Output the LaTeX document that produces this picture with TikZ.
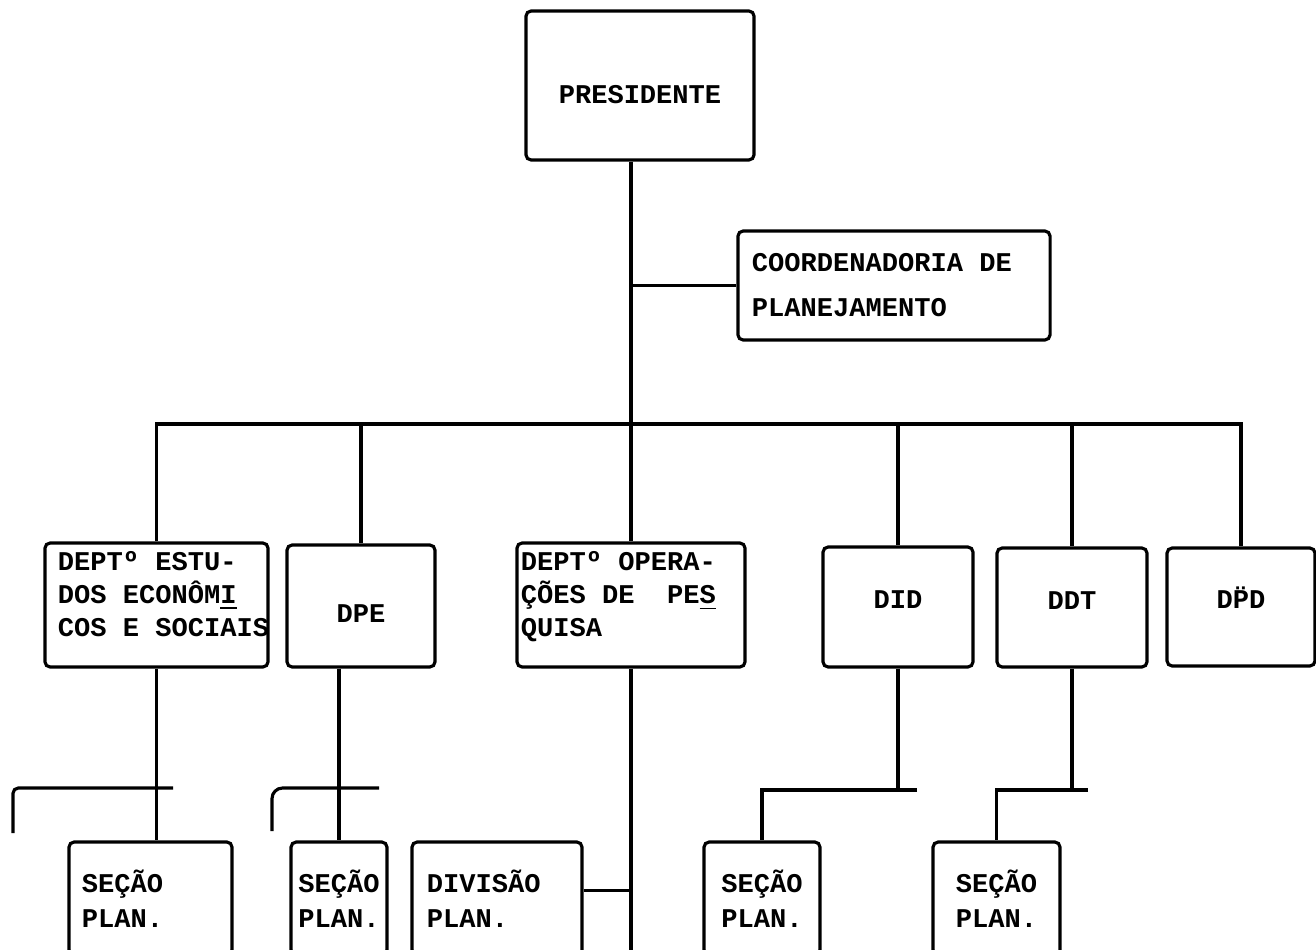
\documentclass[tikz,border=0pt]{standalone}
\usepackage{fontspec}
\setmonofont{Liberation Mono}
\usetikzlibrary{positioning}
\newcommand\tyfont[1]{\ttfamily\bfseries\fontsize{7.7}{#1}\selectfont}
\newcommand\tsp{\hspace*{0.6em}}

\begin{document}
\begin{tikzpicture}[
    x=0.01cm, y=-0.01cm,
    unit/.style = {rectangle, draw=black, line width=0.9pt, rounded corners=1.5pt, inner sep=0pt, font=\tyfont{9.36pt}},
    plan/.style = {unit, minimum height=1.13cm, font=\tyfont{9.93pt}},
    link/.style = {draw=black, line width=0.9pt}
]
\useasboundingbox [fill=white] (0,0) rectangle (1316,949);
\clip (0,0) rectangle (1316,949);

\node (pres) [unit, minimum width=2.28cm, minimum height=1.49cm, text height=10.5pt, text depth=0pt] at (640,85.5) {PRESIDENTE};
\node (coord) [unit, minimum width=3.12cm, minimum height=1.09cm, text width=2.84cm, inner xsep=0.14cm, align=left, font=\tyfont{12.8pt}] at (894,285.5) {\mbox{COORDENADORIA\tsp DE}\\PLANEJAMENTO};

% departamentos
\node (estudos) [unit, minimum width=2.23cm, minimum height=1.24cm, text width=1.97cm, inner xsep=0.13cm, align=left] at (156.5,605) {\mbox{DEPTº\tsp ESTU-}\\\mbox{DOS\tsp ECONÔM\underline{I}}\\\mbox{COS\tsp E\tsp SOCIAIS}\\[-2.9pt]\mbox{}};
\node (dpe) [unit, minimum width=1.48cm, minimum height=1.22cm, text height=9.6pt, text depth=0pt] at (361,606) {DPE};
\node (oper) [unit, minimum width=2.28cm, minimum height=1.24cm, text width=2.20cm, inner xsep=0.04cm, align=left] at (631,605) {\mbox{DEPTº\tsp OPERA-}\\\mbox{ÇÕES\tsp DE\tsp\tsp PE\underline{S}}\\QUISA\\[-2.9pt]\mbox{}};
\node (did) [unit, minimum width=1.50cm, minimum height=1.20cm, text height=5.1pt, text depth=4pt] at (898,607) {DID};
\node (ddt) [unit, minimum width=1.50cm, minimum height=1.19cm, text height=5.1pt, text depth=4pt] at (1072,607.5) {DDT};
\node (dpd) [unit, minimum width=1.48cm, minimum height=1.18cm, text height=5.1pt, text depth=4pt] at (1241,607) {D\"{P}D};

% secoes
\node (sec1) [plan, minimum width=1.63cm, text width=1.37cm, inner xsep=0.13cm, align=left] at (150.5,898.5) {SEÇÃO\\PLAN.};
\node (sec2) [plan, minimum width=0.96cm, align=center] at (339,898.5) {SEÇÃO\\PLAN.};
\node (div) [plan, minimum width=1.70cm, text width=1.40cm, inner xsep=0.15cm, align=left] at (497,898.5) {DIVISÃO\\PLAN.};
\node (sec4) [plan, minimum width=1.16cm, align=center] at (762,898.5) {SEÇÃO\\PLAN.};
\node (sec5) [plan, minimum width=1.27cm, align=center] at (996.5,898.5) {SEÇÃO\\PLAN.};

\coordinate (bus) at (0,424);
\coordinate (low) at (0,960);
\coordinate (bar1l) at (13,833);
\coordinate (bar1r) at (173,788);
\coordinate (bar2l) at (272,831);
\coordinate (bar2r) at (379,788);
\coordinate (bar3) at (917,790);
\coordinate (bar4) at (1088,790);
\coordinate (divport) at ([yshift=2.3pt]div.east);

\draw [link] (pres.south -| oper.north) -- (oper.north);
\draw [link] (coord.west) -- (coord.west -| oper.north);
\draw [link] (estudos.north) |- (bus -| dpd.north) -- (dpd.north);
\foreach \d in {dpe, did, ddt}
    \draw [link] (bus -| \d.north) -- (\d.north);

\draw [link] (estudos.south) -- (estudos.south |- sec1.north);
\draw [link, rounded corners=1.5pt] (bar1l) |- (bar1r);
\draw [link] (sec2.north |- dpe.south) -- (sec2.north);
\draw [link, rounded corners=3pt] (bar2l) |- (bar2r);
\draw [link] (oper.south) -- (oper.south |- low);
\draw [link] (divport) -- (divport -| oper.south);
\draw [link] (did.south) -- (did.south |- bar3);
\draw [link] (bar3) -| (sec4.north);
\draw [link] (ddt.south) -- (ddt.south |- bar4);
\draw [link] (bar4) -| (sec5.north);

\end{tikzpicture}
\end{document}
